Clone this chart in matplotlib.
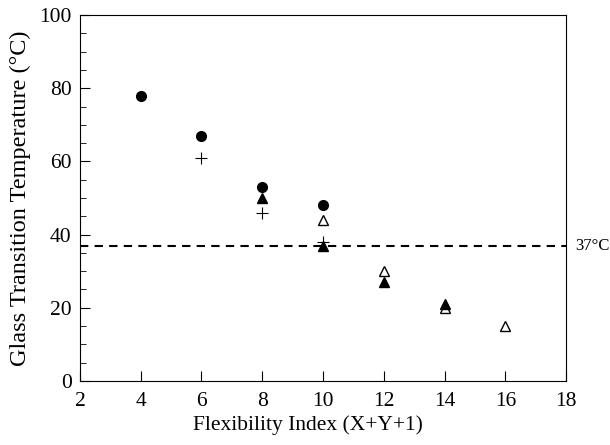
import matplotlib
matplotlib.use("Agg")
from matplotlib import pyplot as plt
from matplotlib.ticker import MultipleLocator

plt.rcParams['font.family'] = ['Liberation Serif', 'DejaVu Serif']

# donnees
x_circle = [4, 6, 8, 10]
y_circle = [78, 67, 53, 48]

x_plus = [6, 8, 10]
y_plus = [61, 46, 38]

x_tri_full = [8, 10, 12, 14]
y_tri_full = [50, 37, 27, 21]

x_tri_open = [10, 12, 14, 16]
y_tri_open = [44, 30, 20, 15]

body_temp = 37

fig = plt.figure(figsize=(6.1, 4.45), dpi=100)
ax = fig.add_axes([0.131, 0.144, 0.797, 0.822])

ax.plot(x_circle, y_circle, 'o', color='black', markersize=7, linestyle='none')
ax.plot(x_plus, y_plus, '+', color='black', markersize=8, markeredgewidth=0.8, linestyle='none')
ax.plot(x_tri_open, y_tri_open, '^', markerfacecolor='white', markeredgecolor='black',
        markersize=7, markeredgewidth=1.0, linestyle='none')
ax.plot(x_tri_full, y_tri_full, '^', color='black', markersize=7, linestyle='none')

# ligne pointillee a 37 C
ax.axhline(body_temp, color='black', linestyle=(0, (4, 3)), linewidth=1.5)
ax.text(18.3, body_temp, "37°C", va='center', ha='left', fontsize=12)

ax.set_xlim(2, 18)
ax.set_ylim(0, 100)
ax.xaxis.set_major_locator(MultipleLocator(2))
ax.yaxis.set_major_locator(MultipleLocator(20))
ax.yaxis.set_minor_locator(MultipleLocator(5))
ax.tick_params(direction='in', which='both', labelsize=15.5)
ax.tick_params(which='major', length=7)
ax.tick_params(which='minor', length=4)
ax.tick_params(axis='x', pad=8)
ax.tick_params(axis='y', pad=6)

ax.set_xlabel("Flexibility Index (X+Y+1)", fontsize=15.5)
ax.xaxis.set_label_coords(0.469, -0.12)
ax.xaxis.label.set_va('center')
ax.set_ylabel("Glass Transition Temperature (°C)", fontsize=17.5, labelpad=6)

fig.savefig("out.png", dpi=100)
